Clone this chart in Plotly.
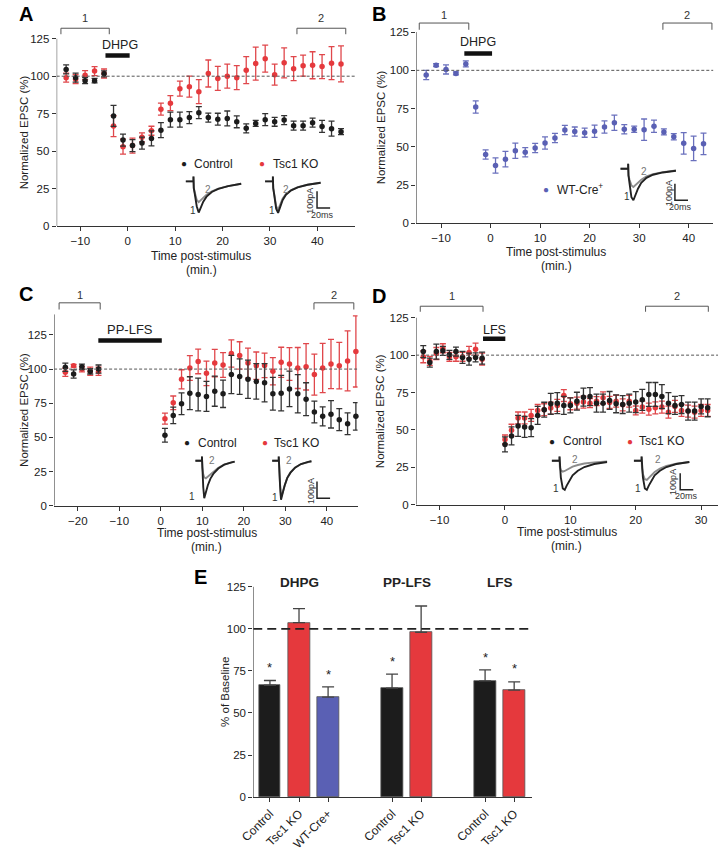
import plotly.graph_objects as go

W, H = 722, 853
FONT = "Arial, Liberation Sans, Helvetica, sans-serif"
BLACK = "#1c1c1c"; RED = "#e5393d"; BLUE = "#5a60b4"
EBLACK = "#333333"; ERED = "#e0474b"; EBLUE = "#6a70bd"
AX = "#333333"

# ---------------- data ----------------
A_X = [-13, -11, -9, -7, -5, -3, -1, 1, 3, 5, 7, 9, 11, 13, 15, 17, 19, 21, 23, 25, 27, 29, 31, 33, 35, 37, 39, 41, 43, 45]
A_CTRL = [104.5, 99, 97, 97, 101.6, 73.5, 57.4, 53.7, 55.4, 58.5, 64, 71, 71, 72.4, 75.7, 72.4, 71.3, 71.8, 69.6, 65.2, 68.5, 71, 69.6, 70.7, 67, 67, 69, 66.5, 65, 63]
A_CTRL_ERR = [3, 3, 2, 1.5, 2, 7, 4, 4, 4, 5, 5, 5, 5, 4, 4, 3, 4, 5, 4, 3, 2, 4, 3, 3, 3, 3, 3, 4, 5, 2]
A_KO = [99, 98, 100.7, 103.4, 101.8, 66.7, 53, 53.7, 59.2, 63.6, 78, 82, 91.7, 93, 89.7, 101.8, 98.5, 100, 99, 104, 108.4, 111.7, 101, 108.9, 105, 107, 107.3, 106.4, 108.7, 108.2]
A_KO_ERR = [3, 3, 3, 3, 3, 7, 5, 5, 3, 3, 4, 5, 5, 7, 8, 9, 8, 8, 8, 9, 11, 9, 7, 10, 8, 7, 9, 8, 11, 12]

B_X = [-13, -11, -9, -7, -5, -3, -1, 1, 3, 5, 7, 9, 11, 13, 15, 17, 19, 21, 23, 25, 27, 29, 31, 33, 35, 37, 39, 41, 43]
B_WT = [97, 103.4, 100.6, 98, 104.2, 76.1, 45, 37.8, 42, 47.5, 46.5, 49.3, 52.5, 55.8, 61, 60, 59.3, 60.2, 63, 65.8, 61.5, 61.5, 61.2, 63.5, 59.8, 56.6, 52.3, 49, 52]
B_WT_ERR = [3, 1, 3, 1, 2, 4, 3, 5, 5, 5, 3, 3, 4, 3, 3, 3, 3, 4, 4, 5, 3, 2, 7, 4, 2, 2, 7, 8, 7]

C_X = [-23, -21, -19, -17, -15, 1, 3, 5, 7, 9, 11, 13, 15, 17, 19, 21, 23, 25, 27, 29, 31, 33, 35, 37, 39, 41, 43, 45, 47]
C_CTRL = [101.3, 96.4, 101.7, 98.4, 100, 51.6, 66.1, 74.6, 82.4, 81.4, 80, 83.8, 81.9, 96, 94.5, 92.5, 91, 90, 81.9, 82.4, 85.5, 81.9, 78, 68.6, 65.4, 66.9, 63, 60, 65.4]
C_CTRL_ERR = [3, 3, 2, 2, 3, 5, 6, 8, 12, 12, 11, 11, 10, 14, 13, 14, 13, 14, 12, 13, 13, 14, 12, 8, 7, 10, 8, 8, 10]
C_KO = [97.6, 102.5, 100, 98.4, 98.4, 63.7, 75.3, 92.5, 100.8, 105.6, 96.9, 104.4, 103, 111.4, 110, 104.4, 102.5, 102.7, 98.4, 105, 103.7, 100.8, 101.7, 96, 100.8, 103.7, 102.5, 106, 112.9]
C_KO_ERR = [3, 1, 2, 3, 3, 4, 5, 7, 9, 9, 9, 10, 9, 10, 10, 11, 10, 9, 10, 11, 12, 15, 17, 15, 18, 18, 17, 22, 26]

D_X = [-12.5, -11.5, -10.5, -9.5, -8.5, -7.5, -6.5, -5.5, -4.5, -3.5,
       0, 1, 2, 3, 4, 5, 6, 7, 8, 9, 10, 11, 12, 13, 14, 15, 16, 17, 18, 19, 20, 21, 22, 23, 24, 25, 26, 27, 28, 29, 30, 31]
D_CTRL = [102.4, 95, 102.4, 102.9, 100.2, 102.4, 98.5, 97.3, 98.5, 98,
          40.3, 46, 52.7, 52, 51.5, 59.7, 63.5, 67.5, 67.9, 66.4, 66.4, 69.2, 71.9, 72.3, 67.9, 67.9, 69.7, 67.5, 67, 67.9, 68.6, 70.1, 73.7, 73.7, 72.3, 67.9, 66.4, 67, 62.6, 62.6, 65.7, 64.8]
D_CTRL_ERR = [4, 3, 5, 3, 3, 3, 4, 4, 3, 4,
              5, 6, 7, 7, 6, 6, 5, 7, 7, 6, 5, 6, 6, 6, 6, 6, 6, 6, 6, 6, 7, 7, 8, 8, 8, 7, 6, 6, 6, 6, 5, 6]
D_KO = [98.9, 96.2, 101.1, 104.6, 98.9, 98.9, 98.9, 101.8, 104, 97.3,
        43.6, 49.8, 58, 58, 59.7, 63, 63.5, 64.6, 66.4, 73, 67.5, 67.9, 68.6, 67.9, 69.2, 71.5, 68.4, 69.2, 66.8, 69.2, 63, 65.3, 63.9, 64.8, 65.3, 61.9, 65.7, 63, 62.6, 61.9, 63, 63]
D_KO_ERR = [4, 3, 4, 3, 3, 3, 3, 4, 4, 4,
            3, 4, 4, 4, 4, 4, 4, 4, 4, 4, 4, 4, 4, 3, 3, 4, 4, 4, 4, 4, 3, 4, 4, 4, 4, 4, 4, 4, 4, 4, 4, 4]

E_LABELS = ["Control", "Tsc1 KO", "WT-Cre+", "Control", "Tsc1 KO", "Control", "Tsc1 KO"]
E_POS = [0, 1, 2, 4.2, 5.2, 7.4, 8.4]
E_VALUES = [66.5, 103.7, 59.4, 64.8, 98.0, 69.1, 63.6]
E_ERR = [2.8, 8.3, 6.1, 8.3, 15.6, 6.5, 4.9]
E_COLORS = [BLACK, RED, BLUE, BLACK, RED, BLACK, RED]
E_STAR = [True, False, True, True, False, True, True]
E_GROUPS = ["DHPG", "PP-LFS", "LFS"]
E_GROUP_POS = [1, 4.7, 7.9]

Y_TICKS = [0, 25, 50, 75, 100, 125]

# inset traces (time in ms, current in pA)
T_STD = [0, 12, 12, 12.5, 14, 17, 20, 23, 27, 32, 40, 50, 65, 85]
T_C = [0, 10, 10, 10.5, 12, 13.5, 16, 19, 23, 28, 35, 44, 55, 60]
A_CTRL_1 = [0, 0, 30, -40, -75, -150, -188, -160, -122, -92, -64, -45, -28, -14]
A_CTRL_2 = [0, 0, 30, -40, -65, -112, -125, -114, -98, -80, -60, -44, -28, -14]
A_KO_1 = [0, 0, 30, -40, -80, -165, -190, -155, -112, -80, -54, -36, -20, -8]
A_KO_2 = [0, 0, 30, -40, -75, -150, -170, -140, -103, -75, -52, -35, -20, -8]
B_WT_1 = [0, 0, 30, -40, -85, -172, -190, -160, -120, -85, -55, -36, -22, -12]
B_WT_2 = [0, 0, 30, -40, -65, -100, -110, -100, -84, -66, -46, -32, -20, -10]
C_CTRL_1 = [0, 0, 25, -40, -160, -226, -190, -148, -108, -76, -47, -24, -10, -5]
C_CTRL_2 = [0, 0, 25, -40, -82, -100, -106, -96, -80, -62, -42, -23, -10, -5]
C_KO_1 = [0, 0, 25, -40, -150, -236, -196, -150, -105, -72, -42, -20, -7, -3]
C_KO_2 = [0, 0, 25, -40, -140, -222, -188, -145, -102, -70, -41, -20, -7, -3]
D_CTRL_1 = [0, 0, 25, -40, -100, -168, -176, -150, -118, -88, -60, -38, -20, -8]
D_CTRL_2 = [0, 0, 25, -40, -58, -66, -62, -55, -46, -36, -26, -17, -10, -5]
D_KO_1 = [0, 0, 25, -40, -100, -168, -176, -150, -118, -88, -60, -38, -20, -8]
D_KO_2 = [0, 0, 25, -40, -80, -112, -116, -104, -86, -68, -48, -32, -18, -8]
SCALE_PA = 100
SCALE_MS = 20

# ---------------- helpers ----------------
fig = go.Figure()
layout = {}
annotations = []
shapes = []


def PX(x):
    return x / W


def PY(y):
    return 1 - y / H


def text(x, y, s, size=12, color="#222", bold=False, angle=0, xanchor="center",
         yanchor="middle", xref="paper", yref="paper"):
    if xref == "paper":
        x = PX(x)
    if yref == "paper":
        y = PY(y)
    if bold:
        s = "<b>" + s + "</b>"
    annotations.append(dict(x=x, y=y, xref=xref, yref=yref, text=s, showarrow=False,
                            textangle=angle, xanchor=xanchor, yanchor=yanchor,
                            font=dict(family=FONT, size=size, color=color)))


def main_axes(n, x0px, sx, xr, y0px, sy, yr, xticks, ytop_line):
    sfx = "" if n == 1 else str(n)
    left = x0px + xr[0] * sx
    right = x0px + xr[1] * sx
    top = y0px - yr[1] * sy
    layout["xaxis" + sfx] = dict(domain=[PX(left), PX(right)], range=xr, anchor="y" + sfx,
                                 showline=True, linecolor=AX, linewidth=1, ticks="outside",
                                 ticklen=4, tickcolor=AX, tickwidth=1, tickvals=xticks,
                                 showgrid=False, zeroline=False,
                                 tickfont=dict(family=FONT, size=11.5, color="#222"))
    layout["yaxis" + sfx] = dict(domain=[PY(y0px), PY(top)], range=yr, anchor="x" + sfx,
                                 showline=False, ticks="outside", ticklen=4, tickcolor=AX,
                                 tickwidth=1, tickvals=Y_TICKS, showgrid=False, zeroline=False,
                                 tickfont=dict(family=FONT, size=11.5, color="#222"))
    # y-axis spine limited to the labelled range
    fig.add_trace(go.Scatter(x=[xr[0], xr[0]], y=[0, ytop_line], mode="lines",
                             line=dict(color=AX, width=1), cliponaxis=False,
                             hoverinfo="skip", showlegend=False,
                             xaxis="x" + sfx, yaxis="y" + sfx))


def series(n, x, y, err, color, ecolor):
    sfx = "" if n == 1 else str(n)
    fig.add_trace(go.Scatter(x=x, y=y, mode="markers",
                             marker=dict(size=5.5, color=color),
                             error_y=dict(type="data", array=err, color=ecolor,
                                          thickness=1.3, width=3),
                             cliponaxis=False, showlegend=False, hoverinfo="skip",
                             xaxis="x" + sfx, yaxis="y" + sfx))


def dashed100(n, xr):
    sfx = "" if n == 1 else str(n)
    shapes.append(dict(type="line", xref="x" + sfx, yref="y" + sfx, x0=xr[0], x1=xr[1],
                       y0=100, y1=100, line=dict(color="#555", width=1, dash="3px,2px")))


def bracket(n, xa, xb, yh, yl, label, ylab):
    sfx = "" if n == 1 else str(n)
    shapes.append(dict(type="path", xref="x" + sfx, yref="y" + sfx,
                       path=f"M {xa},{yl} L {xa},{yh} L {xb},{yh} L {xb},{yl}",
                       line=dict(color="#555", width=1)))
    text((xa + xb) / 2, ylab, label, size=11, color="#333", xref="x" + sfx, yref="y" + sfx)


def stimbar(n, xa, xb, yv):
    sfx = "" if n == 1 else str(n)
    shapes.append(dict(type="line", xref="x" + sfx, yref="y" + sfx, x0=xa, x1=xb,
                       y0=yv, y1=yv, line=dict(color="#111", width=4.5)))


SXI = 0.667   # px per ms in the insets
SYI = 0.1667  # px per pA in the insets


def inset(n, left, base, xr, yr, t, tr1, tr2, lab1, lab2, scale=None):
    xd = [PX(left + xr[0] * SXI), PX(left + xr[1] * SXI)]
    top = base - yr[1] * SYI
    bot = base - yr[0] * SYI
    layout[f"xaxis{n}"] = dict(domain=xd, range=xr, visible=False, anchor=f"y{n}")
    layout[f"yaxis{n}"] = dict(domain=[PY(bot), PY(top)], range=yr, visible=False, anchor=f"x{n}")
    fig.add_trace(go.Scatter(x=t, y=tr2, mode="lines", line=dict(color="#8c8c8c", width=1.9),
                             showlegend=False, hoverinfo="skip", cliponaxis=False,
                             xaxis=f"x{n}", yaxis=f"y{n}"))
    fig.add_trace(go.Scatter(x=t, y=tr1, mode="lines", line=dict(color="#222", width=1.9),
                             showlegend=False, hoverinfo="skip", cliponaxis=False,
                             xaxis=f"x{n}", yaxis=f"y{n}"))
    text(lab1[0], lab1[1], "1", size=10, color="#333", xref=f"x{n}", yref=f"y{n}")
    text(lab2[0], lab2[1], "2", size=10, color="#777", xref=f"x{n}", yref=f"y{n}")
    if scale:
        t0, ylow = scale
        fig.add_trace(go.Scatter(x=[t0, t0, t0 + SCALE_MS], y=[ylow + SCALE_PA, ylow, ylow],
                                 mode="lines", line=dict(color="#222", width=1.5),
                                 showlegend=False, hoverinfo="skip", cliponaxis=False,
                                 xaxis=f"x{n}", yaxis=f"y{n}"))
        text(t0 - 10, ylow + SCALE_PA / 2 - 4, f"{SCALE_PA}pA", size=9, color="#333", angle=-90,
             xref=f"x{n}", yref=f"y{n}")
        text(t0 + 9, ylow - 40, f"{SCALE_MS}ms", size=9, color="#333",
             xref=f"x{n}", yref=f"y{n}")


def legend_entry(xdot, xtext, y, color, label):
    text(xdot, y, "●", size=10, color=color)
    text(xtext, y, label, size=12, color="#222", xanchor="left")


# ---------------- Panel A ----------------
A_XR = [-15, 48]
main_axes(1, 116, 4.833, A_XR, 227.7, 1.5096, [0, 145], [-10, 0, 10, 20, 30, 40], 125)
dashed100(1, A_XR)
series(1, A_X, A_KO, A_KO_ERR, RED, ERED)
series(1, A_X, A_CTRL, A_CTRL_ERR, BLACK, EBLACK)
bracket(1, -14.1, -3.9, 132, 128, "1", 138.7)
bracket(1, 35.7, 46.0, 132, 128, "2", 138.7)
stimbar(1, -4.7, 0.4, 113.8)
text(108, 45, "DHPG", size=12.5)
text(12, 14, "A", size=20, bold=True, color="#000")
text(10, 133.5, "Normalized EPSC (%)", size=11.5, angle=-90)
text(191, 257.5, "Time post-stimulus", size=12)
text(191, 271.5, "(min.)", size=12)
legend_entry(173, 182, 165, BLACK, "Control")
legend_entry(253, 262, 165, RED, "Tsc1 KO")
inset(6, 175, 182.7, [0, 88], [-215, 40], T_STD, A_CTRL_1, A_CTRL_2, (11.5, -174), (33.5, -48))
inset(7, 256, 182.7, [0, 102], [-215, 40], T_STD, A_KO_1, A_KO_2, (11, -174), (32, -48),
      scale=(79.5, -160))

# ---------------- Panel B ----------------
B_XR = [-15, 45]
main_axes(2, 486, 5.05, B_XR, 225, 1.5416, [0, 142], [-10, 0, 10, 20, 30, 40], 125)
dashed100(2, B_XR)
series(2, B_X, B_WT, B_WT_ERR, BLUE, EBLUE)
bracket(2, -14.4, -4.4, 130.9, 126.5, "1", 136)
bracket(2, 34.8, 44.7, 130.9, 126.5, "2", 136)
stimbar(2, -5.3, 0.3, 111)
text(473, 42.7, "DHPG", size=12.5)
text(372.5, 14, "B", size=20, bold=True, color="#000")
text(374, 128.5, "Normalized EPSC (%)", size=11.5, angle=-90)
text(553, 254, "Time post-stimulus", size=12)
text(553, 268, "(min.)", size=12)
legend_entry(542.7, 552, 190.7, BLUE, "WT-Cre<sup>+</sup>")
inset(8, 618.3, 170, [0, 108], [-245, 40], T_STD, B_WT_1, B_WT_2, (10, -170), (36, -14),
      scale=(83.5, -190))

# ---------------- Panel C ----------------
C_XR = [-25.7, 47.4]
main_axes(3, 149.7, 4.233, C_XR, 509.3, 1.376, [0, 160], [-20, -10, 0, 10, 20, 30, 40], 140)
dashed100(3, C_XR)
series(3, C_X, C_KO, C_KO_ERR, RED, ERED)
series(3, C_X, C_CTRL, C_CTRL_ERR, BLACK, EBLACK)
bracket(3, -24.5, -14.6, 148.5, 143.6, "1", 154)
bracket(3, 36.9, 46.5, 148.5, 143.6, "2", 154)
stimbar(3, -15.05, 0.24, 121)
text(118.3, 332.3, "PP-LFS", size=13)
text(12, 296, "C", size=20, bold=True, color="#000")
text(10, 413, "Normalized EPSC (%)", size=11.5, angle=-90)
text(196.7, 537, "Time post-stimulus", size=12)
text(196.7, 551, "(min.)", size=12)
legend_entry(176.7, 186, 445.7, BLACK, "Control")
legend_entry(256, 263, 445.7, RED, "Tsc1 KO")
inset(9, 185, 464, [-8, 62], [-265, 30], T_C, C_CTRL_1, C_CTRL_2, (-5, -216), (26, 4))
inset(10, 263.3, 464, [-5, 92], [-265, 30], T_C, C_KO_1, C_KO_2, (5, -220), (26, 0),
      scale=(68.5, -226))

# ---------------- Panel D ----------------
D_XR = [-13.6, 32.6]
main_axes(4, 500.7, 6.667, D_XR, 508.3, 1.5064, [0, 145], [-10, 0, 10, 20, 30], 125)
dashed100(4, D_XR)
series(4, D_X, D_KO, D_KO_ERR, RED, ERED)
series(4, D_X, D_CTRL, D_CTRL_ERR, BLACK, EBLACK)
bracket(4, -12.96, -3.36, 132.7, 129, "1", 139.3)
bracket(4, 21.5, 31.1, 132.7, 129, "2", 139.3)
stimbar(4, -3.36, 0.05, 111)
text(490, 332.3, "LFS", size=12.5)
text(372.5, 298, "D", size=20, bold=True, color="#000")
text(373.3, 414, "Normalized EPSC (%)", size=11.5, angle=-90)
text(563.5, 535.5, "Time post-stimulus", size=12)
text(563.5, 549.5, "(min.)", size=12)
legend_entry(548.3, 558, 444.3, BLACK, "Control")
legend_entry(628.3, 635, 444.3, RED, "Tsc1 KO")
inset(11, 548.3, 464, [0, 85], [-245, 30], T_STD, D_CTRL_1, D_CTRL_2, (6.5, -166), (36, 10))
inset(12, 632, 464, [0, 100], [-245, 30], T_STD, D_KO_1, D_KO_2, (7, -166), (37, 6),
      scale=(71, -176))

# ---------------- Panel E ----------------
E_XR = [-0.574, 9.0]
x0e, sxe = 261, 29.65
layout["xaxis5"] = dict(domain=[PX(x0e + E_XR[0] * sxe), PX(x0e + E_XR[1] * sxe)], range=E_XR,
                        anchor="y5", showline=True, linecolor=AX, linewidth=1, ticks="outside",
                        ticklen=4, tickcolor=AX, tickvals=E_POS, ticktext=E_LABELS,
                        tickangle=-45, showgrid=False, zeroline=False,
                        tickfont=dict(family=FONT, size=12, color="#222"))
layout["yaxis5"] = dict(domain=[PY(802.7), PY(802.7 - 135 * 1.6936)], range=[0, 135], anchor="x5",
                        showline=False, ticks="outside", ticklen=4, tickcolor=AX,
                        tickvals=Y_TICKS, showgrid=False, zeroline=False,
                        tickfont=dict(family=FONT, size=11.5, color="#222"))
fig.add_trace(go.Scatter(x=[E_XR[0], E_XR[0]], y=[0, 125], mode="lines",
                         line=dict(color=AX, width=1), cliponaxis=False, hoverinfo="skip",
                         showlegend=False, xaxis="x5", yaxis="y5"))
fig.add_trace(go.Bar(x=E_POS, y=E_VALUES, width=0.74,
                     marker=dict(color=E_COLORS, line=dict(color="#555", width=0.8)),
                     error_y=dict(type="data", array=E_ERR, symmetric=False,
                                  arrayminus=[0] * len(E_ERR), color="#444", thickness=1.3, width=6),
                     showlegend=False, hoverinfo="skip", xaxis="x5", yaxis="y5"))
shapes.append(dict(type="line", xref="x5", yref="y5", x0=E_XR[0], x1=E_XR[1], y0=100, y1=100,
                   line=dict(color="#222", width=1.8, dash="9px,5px")))
for p, v, e, s in zip(E_POS, E_VALUES, E_ERR, E_STAR):
    if s:
        text(p, v + e + 2, "*", size=13, color="#222", yanchor="bottom", xref="x5", yref="y5")
for g, gp in zip(E_GROUPS, E_GROUP_POS):
    text(gp, 586.7, g, size=13.5, bold=True, xref="x5")
text(190, 581, "E", size=20, bold=True, color="#000")
text(215, 697, "% of Baseline", size=11.5, angle=-90)

layout.update(dict(width=W, height=H, margin=dict(l=0, r=0, t=0, b=0),
                   paper_bgcolor="white", plot_bgcolor="white", showlegend=False,
                   annotations=annotations, shapes=shapes, bargap=0,
                   font=dict(family=FONT, color="#222")))
fig.update_layout(**layout)
fig.write_html("out.html", config={"displayModeBar": False},
               post_script="document.body.style.margin='0';document.body.style.padding='0';"
                           "document.body.style.overflow='hidden';"
                           "document.documentElement.style.overflow='hidden';")
